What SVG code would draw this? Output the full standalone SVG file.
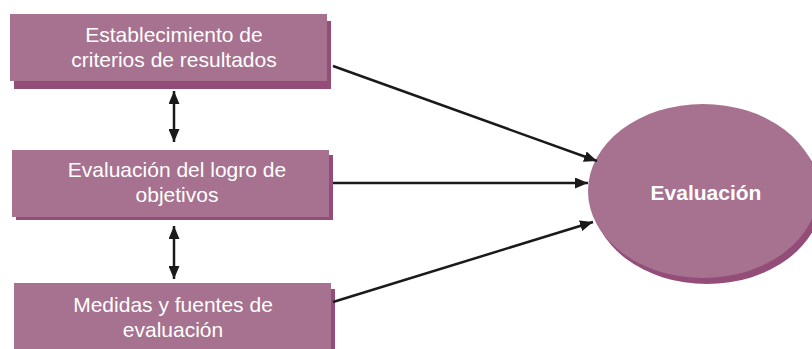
<svg xmlns="http://www.w3.org/2000/svg" width="812" height="349" viewBox="0 0 812 349">
<style>
.box{fill:#a6728f}
.sh{fill:#944d79}
.t{font-family:"Liberation Sans",Arial,sans-serif;font-size:21px;fill:#ffffff;text-anchor:middle}
.b{font-weight:bold}
.c{stroke:#1a1a1a;stroke-width:2.5;fill:none}
</style>
<defs>
<marker id="ah" viewBox="0 0 13 11" refX="13" refY="5.5" markerWidth="13" markerHeight="11" markerUnits="userSpaceOnUse" orient="auto-start-reverse">
<path d="M0,0 L13,5.5 L0,11 Z" fill="#1a1a1a"/>
</marker>
</defs>
<rect width="812" height="349" fill="#ffffff"/>
<g id="node1">
<rect class="sh" x="14" y="21" width="317" height="68"/>
<rect class="box" x="10" y="14" width="317" height="67"/>
<text class="t" x="174" y="42">Establecimiento de</text>
<text class="t" x="174" y="67">criterios de resultados</text>
</g>
<g id="node2">
<rect class="sh" x="16" y="155" width="317" height="65"/>
<rect class="box" x="12" y="150" width="317" height="67"/>
<text class="t" x="177" y="177">Evaluación del logro de</text>
<text class="t" x="177" y="202">objetivos</text>
</g>
<g id="node3">
<rect class="sh" x="18" y="289" width="317" height="60"/>
<rect class="box" x="14" y="283" width="317" height="66"/>
<text class="t" x="173" y="312">Medidas y fuentes de</text>
<text class="t" x="173" y="337">evaluación</text>
</g>
<g id="node4">
<ellipse class="sh" cx="707" cy="197" rx="115" ry="87"/>
<ellipse class="box" cx="703" cy="191" rx="115" ry="87"/>
<text class="t b" x="706" y="200">Evaluación</text>
</g>
<g id="connectors">
<line class="c" x1="333" y1="66" x2="597" y2="161" marker-end="url(#ah)"/>
<line class="c" x1="333" y1="183" x2="588" y2="183" marker-end="url(#ah)"/>
<line class="c" x1="333" y1="302" x2="593" y2="222" marker-end="url(#ah)"/>
<line class="c" x1="174" y1="91" x2="174" y2="142" marker-start="url(#ah)" marker-end="url(#ah)"/>
<line class="c" x1="174" y1="226" x2="174" y2="279" marker-start="url(#ah)" marker-end="url(#ah)"/>
</g>
</svg>
